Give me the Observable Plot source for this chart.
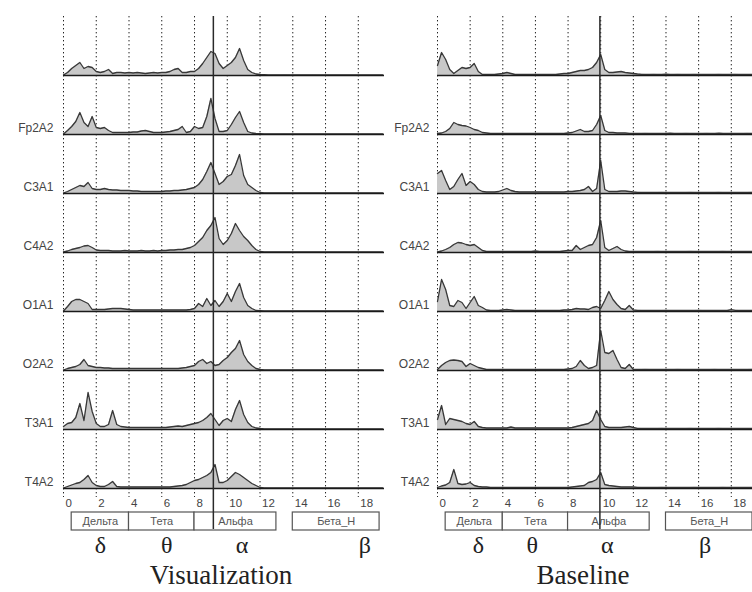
<!DOCTYPE html>
<html>
<head>
<meta charset="utf-8">
<script src="https://cdn.jsdelivr.net/npm/d3@7"></script>
<script src="https://cdn.jsdelivr.net/npm/@observablehq/plot@0.6"></script>
<style>
  html, body { margin: 0; padding: 0; background: #fff; }
  #wrap { display: flex; flex-direction: row; width: 752px; height: 592px; overflow: hidden; }
  .panel { display: flex; flex-direction: column; }
  .panel svg { display: block; overflow: visible; }
</style>
</head>
<body>
<div id="wrap">
  <div class="panel" id="left"></div>
  <div class="panel" id="right"></div>
</div>
<script>
// ---------- data ----------
const channels = ["", "Fp2A2", "C3A1", "C4A2", "O1A1", "O2A2", "T3A1", "T4A2"];
const gridHz = [0, 2, 4, 6, 8, 10, 12, 14, 16, 18];
const tickLabels = ["0", "2", "4", "6", "8", "10", "12", "14", "16", "18"];
const bandNames = ["Дельта", "Тета", "Альфа", "Бета_Н"];
const bandFrom = [0.5, 4, 8, 14];
const bandTo = [4, 8, 13, 19.3];
const greek = ["δ", "θ", "α", "β"];
const greekHzVis = [2.25, 6.3, 10.9, 18.4];
const greekHzBase = [2.5, 5.8, 10.4, 16.4];
const alphaPeakVis = 9.15;
const alphaPeakBase = 9.95;
const titles = ["Visualization", "Baseline"];
const binHz = 0.25; // spectra sampled every 0.25 Hz from 0 Hz

// spectral power (arbitrary units), Visualization
const vis1 = [0.5,3,7,10,13,7,9,8,4,3,4,6,2, 3,3,2.5,3,2.5,3,2.5,2,2.5,3,2.5,3, 3,4,6,7,3,3,4,4,7,12,18,24, 22,12,7,10,13,18,27,15,6,3,1.5,1,
  0.8,0.6,0.5,0.6,0.5,0.7,0.5,0.6,0.5,0.5,0.6,0.5,0.7,0.5,0.5,0.6,0.5,0.5,0.6,0.5,0.5,0.6,0.5,0.5,0.6,0.5,0.5,0.5,0.6,0.5];
const vis2 = [0.5,4,8,13,22,12,8,18,7,6,7,4,2, 2,2,2,2,2.5,2.5,3.5,4,3,2,2,2, 2.5,3,4,5,8,2,3,8,6,7,18,36, 16,3,3,4,10,17,23,12,3,1.5,1,0.8,
  0.6,0.5,0.6,0.5,0.5,0.7,0.5,0.5,0.6,0.5,0.5,0.6,0.5,0.5,0.7,0.5,0.5,0.6,0.5,0.5,0.6,0.5,0.5,0.5,0.6,0.5,0.5,0.6,0.5,0.5];
const vis3 = [0.5,2,4,6,8,7,11,5,4,4,5,4,3.5, 3.5,3,3,3,2.5,2.5,2,2,2,2,2,2, 2.5,2.5,3,3,3.5,4,5,6,9,14,22,31, 20,9,12,17,19,28,39,18,9,6,3,1,
  0.7,0.6,0.5,0.5,0.6,0.5,0.5,0.6,0.5,0.5,0.5,0.6,0.5,0.5,0.6,0.5,0.5,0.5,0.6,0.5,0.5,0.6,0.5,0.5,0.5,0.6,0.5,0.5,0.5,0.5];
const vis4 = [0.5,1.5,3,4,5,6.5,7,5,2.5,2,2,2,1.5, 1.5,1.5,2,1.5,1.5,1.5,2,1.5,1.5,2,1.5,2, 2,2.5,2.5,3,3,4,5,7,11,15,22,27, 35,14,8,12,19,29,22,16,12,7,3,1,
  0.7,0.5,0.5,0.6,0.5,0.5,0.6,0.5,0.5,0.5,0.6,0.5,0.5,0.6,0.5,0.5,0.5,0.6,0.5,0.5,0.6,0.5,0.5,0.5,0.6,0.5,0.5,0.5,0.6,0.5];
const vis5 = [0.5,5,10,12,12,10,8,2,2,2,2,2.5,3, 3,3,2.5,2,1.5,1.5,1.5,1.5,1.5,1.5,1.5,1.5, 1.5,1.5,1.5,1.5,1.5,1.5,2,3,8,5,13,6, 11,5,10,18,10,20,28,14,6,3,1,0.8,
  0.6,0.5,0.5,0.6,0.5,0.5,0.5,0.6,0.5,0.5,0.6,0.5,0.5,0.5,0.6,0.5,0.5,0.6,0.5,0.5,0.5,0.6,0.5,0.5,0.6,0.5,0.5,0.5,0.6,0.5];
const vis6 = [0.5,2,3,4,6,11,5,4,3,3,2.5,2.5,2, 2,2,2,2,2,2,2,2,2,2,2,2, 2,2,2,2,2.5,3,4,5,9,11,7,9, 5,6,10,13,18,22,30,16,9,5,2,1,
  0.7,0.5,0.5,0.6,0.5,0.5,0.6,0.5,0.5,0.5,0.6,0.5,0.5,0.6,0.5,0.5,0.5,0.6,0.5,0.5,0.6,0.5,0.5,0.5,0.6,0.5,0.5,0.6,0.5,0.5];
const vis7 = [3,6,7,12,26,9,37,18,6,3,3,5,19, 5,3,2.5,2,2,2,2,2,2,2,2,2, 2,2.5,3,3.5,3,4,5,6,7,9,12,16, 10,4,9,11,8,20,29,15,7,3,1.5,1,
  0.7,0.6,0.5,0.5,0.6,0.5,0.5,0.6,0.5,0.5,0.5,0.6,0.5,0.5,0.6,0.5,0.5,0.5,0.6,0.5,0.5,0.6,0.5,0.5,0.5,0.6,0.5,0.5,0.5,0.5];
const vis8 = [0.5,2,3.5,5,6,9,13,6,3,2,2,4,7, 2,1.5,1.5,1.5,1.5,1.5,1.5,1.5,1.5,1.5,1.5,1.5, 1.5,1.5,2,2.5,3,4,6,8,9,11,13,16, 24,6,6,8,12,16,14,11,8,5,3,1,
  0.7,0.5,0.5,0.6,0.5,0.5,0.6,0.5,0.5,0.5,0.6,0.5,0.5,0.6,0.5,0.5,0.5,0.6,0.5,0.5,0.6,0.5,0.5,0.5,0.6,0.5,0.5,0.6,0.5,0.5];

// spectral power (arbitrary units), Baseline
const base1 = [10,23,16,6,2,5,8,7,8,12,4,1,1, 1,1,1.5,2,3,2,1,1,1,1,1,1, 1,1,1,1,1,1.5,2,2,3,4,5,5, 6,8,13,21,6,3,3,3.5,4,3,2.5,2,
  1.5,1.2,1,1,1.2,1,1,1.3,1,1,1.2,1,1,1,1.2,1,1,1.1,1,1,1.2,1,1,1,1.2,1,1,1,1.1,1];
const base2 = [1,1.5,3,6,12,10,9,8.5,7,5,4,2,1.5, 1,1,1,1,1,1,1,1,1,1,1,1, 1,1,1,1,1,1,1,1.5,2,3.5,5,3, 3,4,10,19,4,2,2,1.5,1.5,1.5,1.2,1,
  1,1,1.2,1,1,1,1.1,1,1.3,1,1,1,1.2,1,1,1,1,1.2,1,1,1.3,1,1,1,1.1,1,1,1.2,1,1];
const base3 = [20,23,13,4,7,14,20,8,12,9,4,2,1.5, 1.5,1.5,2,3.5,5,3,2,1.5,1.5,1.5,1.5,1.5, 1.5,1.5,1.5,1.5,1.5,1.5,1.5,2,2,2.5,3,4, 7,2,5,33,4,2,2,2,2.5,2.5,2,1.5,
  1.2,1,1,1.1,1,1,1.2,1,1,1,1.1,1,1,1.2,1,1,1,1.1,1,1,1.2,1,1,1,1.1,1,1,1,1.2,1];
const base4 = [0.5,1.5,3,5,8,10,9.5,8,7,8,5,2,1, 1,1,1,1,1,1,1,1,1,1,1,1.5, 1,1,1,1,1,1,1.5,2,2,7,3,5, 7,8,15,32,5,2,4,6,3,1.5,1,1,
  1,1,1.1,1,1,1.2,1,1,1,1.1,1,1,1,1.2,1,1,1,1,1.1,1,1,1.2,1,1,1,1,1.1,1,1,1];
const base5 = [10,32,22,6,5,11,9,3,9,15,6,4,1.5, 1,1,1,1.5,2,1.5,1,1,1,1,1,1, 1,1,1,1,1,1,1.5,1.5,2,3,2.5,2.5, 2,4,5,3,11,20,12,7,3,2,6,1.5,
  1.2,1,1,1.1,1,1,1,1.2,1,1,1,1.1,1,1,1,1.2,1,1,1,1,1.1,1,1,1.8,1.2,1,1,1.1,1,1];
const base6 = [1,5,8,10,10.5,10,9,4,7,5,3,2,1, 1,1,1,1,1,1,1,1,1,1,1,1, 1,1,1,1,1,1,1,1.5,2,4,10,5, 2,3,5,40,18,17,20,11,3,2,6,1,
  1,1,1.2,1,1,1,1.1,1,1,1,1.2,1,1,1,1,1.1,1,1,1,1.2,1,1,1,1,1.1,1,1,1,1.2,1];
const base7 = [10,24,5,11,10,9,8,6,5,8,3,2,1.5, 1.5,1.5,1.5,1.5,1.5,2.5,1.5,1.5,1.5,1.5,1.5,1.5, 1.5,1.5,1.5,1.5,1.5,1.5,1.5,1.5,2,3,4,5, 6,9,19,10,3,2,2,2,2,2.5,3,2,
  1.2,1,1,1.1,1,1,1.2,1,1,1,1.1,1,1,1.2,1,1,1,1.1,1,1,1.2,1,1,1,1.1,1,1,1,1.1,1];
const base8 = [1,2.5,3.5,6,19,5,4,4.5,6,3,2,1.5,1.5, 1,1,1,1,1,1,1,1,1,1,1,1, 1,1,1,1,1,1,1,1,1.5,2,2.5,3, 6,7,9,16,4,3,2.5,2,1.5,1.5,1.5,1.5,
  1.2,1,1,1.1,1,1,1.2,1,1,1,1.1,1,1,1,1.2,1,1,1,1.1,1,1,1.2,1,1,1,1.1,1,1,1,1];

const visSeries = [vis1, vis2, vis3, vis4, vis5, vis6, vis7, vis8];
const baseSeries = [base1, base2, base3, base4, base5, base6, base7, base8];

// ---------- drawing ----------
const SANS = "Liberation Sans, Arial, sans-serif";
const SERIF = "Liberation Serif, Times New Roman, serif";

function panel(el, {series, width, marginLeft, xMax, alphaHz, greekHz, title, labelDx, titleDx}) {
  const rows = series.flatMap((vals, r) => vals.map((v, i) => ({row: r, f: i * binHz, v})));
  const bands = bandNames.map((name, i) => ({name, from: bandFrom[i], to: bandTo[i]}));
  const x = {domain: [0, xMax], axis: null};

  const top = Plot.plot({
    width, height: 497,
    marginTop: 16, marginBottom: 9, marginLeft, marginRight: 0,
    x,
    y: {domain: [0, 59], axis: null},
    fy: {domain: d3.range(channels.length), axis: null, padding: 0},
    style: {background: "transparent", overflow: "visible"},
    marks: [
      Plot.ruleX(gridHz, {stroke: "#222", strokeWidth: 1, strokeDasharray: "1.4,2.6"}),
      Plot.ruleX(gridHz, {x: d => d, fy: () => channels.length - 1, y1: 0, y2: -9,
        stroke: "#222", strokeWidth: 1, strokeDasharray: "1.4,2.6"}),
      Plot.areaY(rows, {x: "f", y: "v", fy: "row", fill: "#c8c8c8"}),
      Plot.lineY(rows, {x: "f", y: "v", fy: "row", stroke: "#383838", strokeWidth: 1.3}),
      Plot.ruleY([0], {stroke: "#1a1a1a", strokeWidth: 1.6}),
      Plot.ruleX([alphaHz], {stroke: "#2a2a2a", strokeWidth: 1.5}),
      Plot.ruleX([alphaHz], {x: d => d, fy: () => channels.length - 1, y1: 0, y2: -9,
        stroke: "#2a2a2a", strokeWidth: 1.5}),
      Plot.text(channels, {fy: (d, i) => i, text: d => d, frameAnchor: "bottom-left",
        lineAnchor: "middle", textAnchor: "end", dx: labelDx, dy: -6,
        fontSize: 12, fontFamily: SANS, fill: "#444"})
    ]
  });

  const bottom = Plot.plot({
    width, height: 95,
    marginTop: 0, marginBottom: 0, marginLeft, marginRight: 0,
    x,
    style: {background: "transparent", overflow: "visible"},
    marks: [
      Plot.text(gridHz, {x: d => d, text: (d, i) => tickLabels[i], frameAnchor: "top",
        lineAnchor: "middle", dy: 5.5, dx: 2, textAnchor: "start",
        fontSize: 11.5, fontFamily: SANS, fill: "#444"}),
      Plot.rect(bands, {x1: "from", x2: "to", insetTop: 15, insetBottom: 62,
        fill: "white", stroke: "#555", strokeWidth: 1.2}),
      Plot.text(bands, {x: d => (d.from + d.to) / 2, text: "name", frameAnchor: "top",
        lineAnchor: "middle", dy: 24, fontSize: 11, fontFamily: SANS, fill: "#555",
        letterSpacing: "0.6px"}),
      Plot.ruleX([alphaHz], {insetBottom: 63, stroke: "#2a2a2a", strokeWidth: 1.5}),
      Plot.text(greekHz, {x: d => d, text: (d, i) => greek[i], frameAnchor: "top",
        lineAnchor: "middle", dy: 48, fontSize: 24, fontFamily: SERIF, fill: "#222"}),
      Plot.text([title], {text: d => d, frameAnchor: "top", lineAnchor: "middle",
        dy: 78, dx: titleDx, fontSize: 27, fontFamily: SERIF, fill: "#222"})
    ]
  });

  el.append(top, bottom);
}

panel(document.getElementById("left"), {
  series: visSeries, width: 384, marginLeft: 63, xMax: 19.6,
  alphaHz: alphaPeakVis, greekHz: greekHzVis, title: titles[0], labelDx: -10, titleDx: -3
});
panel(document.getElementById("right"), {
  series: baseSeries, width: 368, marginLeft: 53, xMax: 19.3,
  alphaHz: alphaPeakBase, greekHz: greekHzBase, title: titles[1], labelDx: -8, titleDx: -12
});
</script>
</body>
</html>
